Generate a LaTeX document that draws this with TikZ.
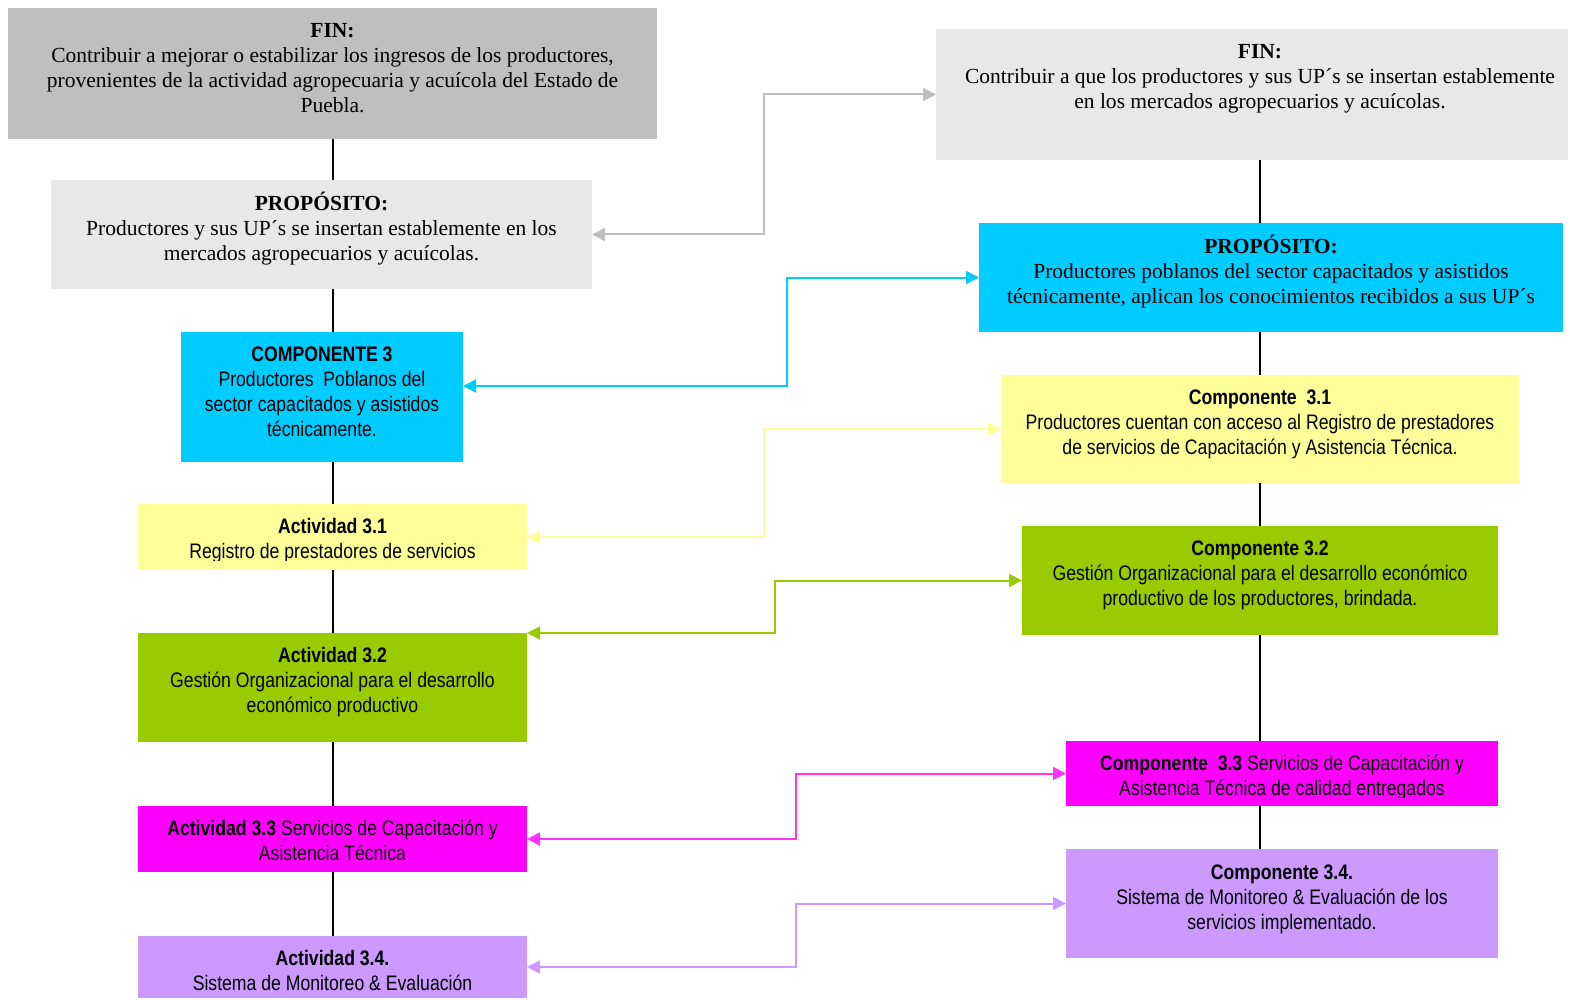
\documentclass[tikz,border=0pt]{standalone}
\usepackage{fontspec}
\setmainfont{Liberation Serif}
\newfontfamily\narrowsans[FakeStretch=0.84]{Liberation Sans}
\usetikzlibrary{arrows.meta,backgrounds}

\definecolor{greyDark}{HTML}{BFBFBF}
\definecolor{greyLight}{HTML}{E8E8E8}
\definecolor{skyBlue}{HTML}{00CCFF}
\definecolor{paleYellow}{HTML}{FFFF99}
\definecolor{leafGreen}{HTML}{99CC00}
\definecolor{pinkMag}{HTML}{FF00FF}
\definecolor{lavender}{HTML}{CC99FF}
\definecolor{pinkLine}{HTML}{FF33FF}

% first-line title: strut fixes the baseline of the first line
\newcommand\ttl[1]{\strut\textbf{#1}}

\begin{document}
\begin{tikzpicture}[x=1pt,y=-1pt,
  box/.style={inner sep=0pt, outer sep=0pt, anchor=north west, draw=none},
  serif/.style={font=\fontsize{21.5}{25}\selectfont, align=center, inner sep=0pt, anchor=north},
  sans/.style={font=\narrowsans\fontsize{21}{25}\selectfont, align=center, inner sep=0pt, anchor=north},
  spine/.style={draw=black, line width=2pt},
  link/.style={line width=2pt, {Triangle[length=13pt,width=13pt]}-{Triangle[length=13pt,width=13pt]}},
]
\useasboundingbox (0,0) rectangle (1570,1000);

% ---------- left column ----------
\node[box, fill=greyDark, minimum width=649pt, minimum height=131pt] (lfin) at (8,8) {};
\node[serif] (lfint) at ([yshift=-11.5pt]lfin.north) {\ttl{FIN:}\\
  Contribuir a mejorar o estabilizar los ingresos de los productores,\\
  provenientes de la actividad agropecuaria y acuícola del Estado de\\
  Puebla.};

\node[box, fill=greyLight, minimum width=541pt, minimum height=109pt] (lprop) at (51,180) {};
\node[serif] (lpropt) at ([yshift=-11.5pt]lprop.north) {\ttl{PROPÓSITO:}\\
  Productores y sus UP´s se insertan establemente en los\\
  mercados agropecuarios y acuícolas.};

\node[box, fill=skyBlue, minimum width=282pt, minimum height=130pt] (comp3) at (181,332) {};
\node[sans] (comp3t) at ([yshift=-11.5pt]comp3.north) {\ttl{COMPONENTE 3}\\
  Productores~ Poblanos del\\
  sector capacitados y asistidos\\
  técnicamente.};

\node[box, fill=paleYellow, minimum width=389pt, minimum height=66pt] (a31) at (138,504) {};
\begin{scope}
  \clip (a31.north west) rectangle ([yshift=10pt]a31.south east);
  \node[sans] (a31t) at ([yshift=-12pt]a31.north) {\ttl{Actividad 3.1}\\
    Registro de prestadores de servicios};
\end{scope}

\node[box, fill=leafGreen, minimum width=389pt, minimum height=109pt] (a32) at (138,633) {};
\node[sans] (a32t) at ([yshift=-12pt]a32.north) {\ttl{Actividad 3.2}\\
  Gestión Organizacional para el desarrollo\\
  económico productivo};

\node[box, fill=pinkMag, minimum width=389pt, minimum height=66pt] (a33) at (138,806) {};
\node[sans] (a33t) at ([yshift=-12pt]a33.north) {\ttl{Actividad 3.3} Servicios de Capacitación y\\
  Asistencia Técnica};

\node[box, fill=lavender, minimum width=389pt, minimum height=62pt] (a34) at (138,936) {};
\node[sans] (a34t) at ([yshift=-12pt]a34.north) {\ttl{Actividad 3.4.}\\
  Sistema de Monitoreo \& Evaluación};

% ---------- right column ----------
\node[box, fill=greyLight, minimum width=632pt, minimum height=131pt] (rfin) at (936,29) {};
\node[serif] (rfint) at ([xshift=8pt,yshift=-11.5pt]rfin.north) {\ttl{FIN:}\\
  Contribuir a que los productores y sus UP´s se insertan establemente\\
  en los mercados agropecuarios y acuícolas.};

\node[box, fill=skyBlue, minimum width=584pt, minimum height=109pt] (rprop) at (979,223) {};
\node[serif] (rpropt) at ([yshift=-11.5pt]rprop.north) {\ttl{PROPÓSITO:}\\
  Productores poblanos del sector capacitados y asistidos\\
  técnicamente, aplican los conocimientos recibidos a sus UP´s};

\node[box, fill=paleYellow, minimum width=518pt, minimum height=108pt] (c31) at (1001,375) {};
\node[sans] (c31t) at ([yshift=-11.5pt]c31.north) {\ttl{Componente~ 3.1}\\
  Productores cuentan con acceso al Registro de prestadores\\
  de servicios de Capacitación y Asistencia Técnica.};

\node[box, fill=leafGreen, minimum width=476pt, minimum height=109pt] (c32) at (1022,526) {};
\node[sans] (c32t) at ([yshift=-11.5pt]c32.north) {\ttl{Componente 3.2}\\
  Gestión Organizacional para el desarrollo económico\\
  productivo de los productores, brindada.};

\node[box, fill=pinkMag, minimum width=432pt, minimum height=65pt] (c33) at (1066,741) {};
\begin{scope}
  \clip (c33.north west) rectangle ([yshift=9pt]c33.south east);
  \node[sans] (c33t) at ([yshift=-12pt]c33.north) {\ttl{Componente~ 3.3} Servicios de Capacitación y\\
    Asistencia Técnica de calidad entregados};
\end{scope}

\node[box, fill=lavender, minimum width=432pt, minimum height=109pt] (c34) at (1066,849) {};
\node[sans] (c34t) at ([yshift=-12.5pt]c34.north) {\ttl{Componente 3.4.}\\
  Sistema de Monitoreo \& Evaluación de los\\
  servicios implementado.};

% ---------- vertical spines behind the boxes ----------
\begin{pgfonlayer}{background}
  \draw[spine] (lfin.south) -- (lfin.south |- a34.north);
  \draw[spine] (c31.center |- rfin.south) -- (c31.center |- c34.north);
\end{pgfonlayer}

% ---------- cross links between the columns ----------
\draw[link, greyDark]   (lprop.east) -- (764,234.5) -- (764,94.5) -- (rfin.west);
\draw[link, skyBlue]    (comp3.east |- 0,386) -- (787,386) -- (787,277.5) -- (rprop.west);
\draw[link, paleYellow] (a31.east) -- (764,537) -- (764,429) -- (c31.west);
\draw[link, leafGreen]  (a32.north east) -- (775,633) -- (775,580.5) -- (c32.west);
\draw[link, pinkLine]   (a33.east) -- (796,839) -- (796,773.5) -- (c33.west);
\draw[link, lavender]   (a34.east) -- (796,967) -- (796,903.5) -- (c34.west);

\end{tikzpicture}
\end{document}
